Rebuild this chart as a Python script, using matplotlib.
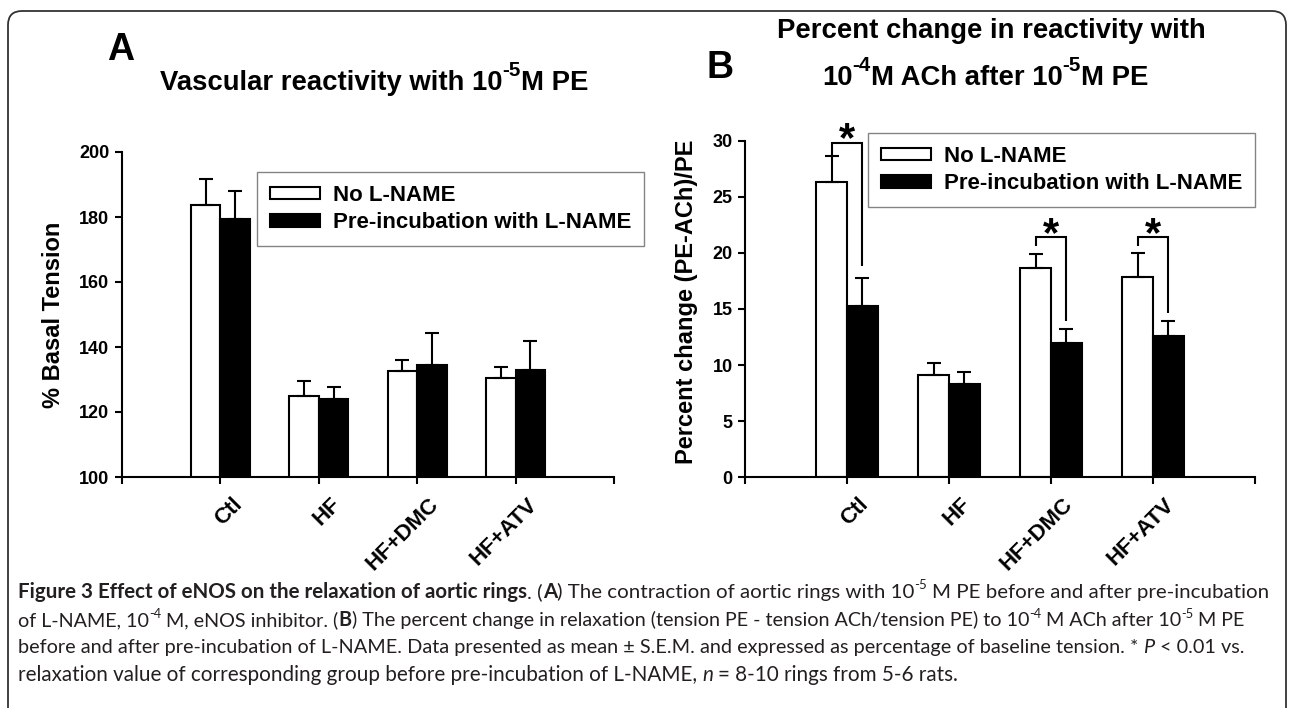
import numpy as np
import matplotlib
matplotlib.use("Agg")
import matplotlib.pyplot as plt
from matplotlib.patches import FancyBboxPatch
from matplotlib.transforms import IdentityTransform, ScaledTranslation

plt.rcParams['font.family'] = ['Liberation Sans', 'DejaVu Sans']
plt.rcParams['font.weight'] = 'bold'

# ---------------- data ----------------
categories = ['Ctl', 'HF', 'HF+DMC', 'HF+ATV']
series_names = ['No L-NAME', 'Pre-incubation with L-NAME']

a_no_lname = [183.7, 124.9, 132.5, 130.6]
a_no_lname_err = [7.9, 4.7, 3.5, 3.3]
a_lname = [179.4, 124.1, 134.4, 132.8]
a_lname_err = [8.5, 3.7, 10.0, 9.2]

b_no_lname = [26.3, 9.1, 18.7, 17.9]
b_no_lname_err = [2.4, 1.1, 1.2, 2.1]
b_lname = [15.3, 8.3, 12.0, 12.6]
b_lname_err = [2.5, 1.1, 1.2, 1.35]

# significance brackets in panel B (group index, bracket height, left/right leg ends)
sig_groups = [0, 2, 3]
sig_bracket_y = [29.8, 21.4, 21.4]
sig_left_bottom = [28.7, 20.6, 20.6]
sig_right_bottom = [18.8, 13.9, 14.6]

a_yticks = [100, 120, 140, 160, 180, 200]
b_yticks = [0, 5, 10, 15, 20, 25, 30]

W, H = 1290, 708
fig = plt.figure(figsize=(W / 100, H / 100), dpi=100)
fig.patch.set_facecolor('white')
renderer = fig.canvas.get_renderer()

# outer rounded frame
frame = FancyBboxPatch((8, -30), 1278, H - 11 + 30,
                       boxstyle="round,pad=0,rounding_size=14",
                       transform=IdentityTransform(), facecolor='none',
                       edgecolor='#333333', linewidth=1.3)
fig.add_artist(frame)

x = np.arange(1, len(categories) + 1)
bw = 0.3
LW = 1.5


def style_axes(ax, yticks):
    ax.set_xlim(0, 5)
    ax.set_ylim(yticks[0], yticks[-1])
    ax.set_yticks(yticks)
    ax.set_xticks(np.arange(0, 6))
    ax.set_xticklabels([''] + categories + [''])
    for s in ['top', 'right']:
        ax.spines[s].set_visible(False)
    for s in ['left', 'bottom']:
        ax.spines[s].set_linewidth(LW)
    ax.tick_params(axis='y', direction='out', length=5, width=LW, labelsize=13, pad=4)
    ax.tick_params(axis='x', direction='out', length=5, width=LW, labelsize=16, pad=7)
    offset = ScaledTranslation(8 / 72, 0, fig.dpi_scale_trans)
    for lab in ax.get_xticklabels():
        lab.set_rotation(45)
        lab.set_ha('right')
        lab.set_va('top')
        lab.set_rotation_mode('anchor')
        lab.set_fontweight('bold')
        lab.set_transform(lab.get_transform() + offset)
    for lab in ax.get_yticklabels():
        lab.set_fontweight('bold')
    ax.patch.set_alpha(0)


def draw_bars(ax, v1, e1, v2, e2):
    b1 = ax.bar(x - bw / 2, v1, bw, color='white', edgecolor='black',
                linewidth=LW, zorder=2, label=series_names[0])
    b2 = ax.bar(x + bw / 2, v2, bw, color='black', edgecolor='black',
                linewidth=LW, zorder=2, label=series_names[1])
    ax.errorbar(x - bw / 2, v1, yerr=[np.zeros(len(v1)), e1], fmt='none',
                ecolor='black', elinewidth=LW, capsize=4.7, capthick=LW, zorder=3)
    ax.errorbar(x + bw / 2, v2, yerr=[np.zeros(len(v2)), e2], fmt='none',
                ecolor='black', elinewidth=LW, capsize=4.7, capthick=LW, zorder=3)
    return b1, b2


def add_legend(ax, left_px, top_px):
    leg = ax.legend(loc='upper left', bbox_to_anchor=(left_px / W, 1 - top_px / H),
                    bbox_transform=fig.transFigure, borderaxespad=0,
                    prop={'weight': 'bold', 'size': 16}, frameon=True,
                    fancybox=False, edgecolor='#666666', handlelength=2.25,
                    handleheight=0.5, handletextpad=0.6, labelspacing=0.29,
                    borderpad=0.58)
    leg.get_frame().set_linewidth(1.0)
    return leg


# ---------------- panel A ----------------
axA = fig.add_axes([122 / W, 1 - 477 / H, (614 - 122) / W, (477 - 152) / H])
draw_bars(axA, a_no_lname, a_no_lname_err, a_lname, a_lname_err)
style_axes(axA, a_yticks)
axA.set_ylabel('% Basal Tension', fontsize=17, fontweight='bold', va='center')
axA.yaxis.set_label_coords((54 - 122) / (614 - 122), 0.5)
add_legend(axA, 257, 172)

# ---------------- panel B ----------------
axB = fig.add_axes([745 / W, 1 - 477 / H, (1255 - 745) / W, (477 - 141) / H])
draw_bars(axB, b_no_lname, b_no_lname_err, b_lname, b_lname_err)
style_axes(axB, b_yticks)
axB.set_ylabel('Percent change (PE-ACh)/PE', fontsize=17, fontweight='bold', va='center')
axB.yaxis.set_label_coords((686 - 745) / (1255 - 745), 0.52)
add_legend(axB, 868, 133)

for g, yb, yl, yr in zip(sig_groups, sig_bracket_y, sig_left_bottom, sig_right_bottom):
    xl = x[g] - bw / 2
    xr = x[g] + bw / 2
    axB.plot([xl, xl, xr, xr], [yl, yb, yb, yr], color='black', lw=LW,
             solid_capstyle='butt', solid_joinstyle='miter', zorder=4, clip_on=False)
    axB.annotate('*', xy=((xl + xr) / 2, yb), xytext=(0, -6), textcoords='offset points',
                 ha='center', va='baseline', fontsize=30, fontweight='bold',
                 annotation_clip=False, zorder=5)


# ---------------- rich text helper ----------------
def make_items(segs, size, family, color):
    items = []
    for txt, st in segs:
        sup = st.get('sup', False)
        fs = size * st.get('supscale', 0.62) if sup else size
        props = dict(fontsize=fs, family=family, fontweight=st.get('weight', 'normal'),
                     fontstyle=st.get('style', 'normal'), color=color)
        lead = len(txt) - len(txt.lstrip(' '))
        trail = len(txt) - len(txt.rstrip(' '))
        core = txt.strip(' ')
        tmp1 = fig.text(0, 0, 'x x', transform=IdentityTransform(), **props)
        tmp2 = fig.text(0, 0, 'xx', transform=IdentityTransform(), **props)
        sp = tmp1.get_window_extent(renderer).width - tmp2.get_window_extent(renderer).width
        tmp1.remove(); tmp2.remove()
        rise = st.get('rise', 0.4) * size * 100 / 72
        items.append((core, props, lead * sp, trail * sp, sup, rise))
    return items


def measure(segs, size, family, color='black'):
    total = 0
    for core, props, lsp, tsp, sup, rise in make_items(segs, size, family, color):
        t = fig.text(0, 0, core, transform=IdentityTransform(), **props)
        w = t.get_window_extent(renderer).width if core else 0
        t.remove()
        total += lsp + w + tsp
    return total


def draw_rich(x_px, y_base_px, segs, size, family, ha='left', color='black'):
    items = make_items(segs, size, family, color)
    texts = []
    total = 0
    for core, props, lsp, tsp, sup, rise in items:
        t = fig.text(0, 0, core, transform=IdentityTransform(), va='baseline', ha='left', **props)
        w = t.get_window_extent(renderer).width if core else 0
        texts.append((t, w, lsp, tsp, sup, rise))
        total += lsp + w + tsp
    cx = x_px - total / 2 if ha == 'center' else x_px
    yb = H - y_base_px
    for t, w, lsp, tsp, sup, rise in texts:
        cx += lsp
        t.set_position((cx, yb + (rise if sup else 0)))
        cx += w + tsp
    return total


B = {'weight': 'bold'}
N = {}
I = {'style': 'italic'}
TS = {'weight': 'bold', 'sup': True, 'supscale': 0.75, 'rise': 0.5}
CS = {'sup': True, 'supscale': 0.65, 'rise': 0.42}

TF = ['Liberation Sans', 'DejaVu Sans']
title_b1 = [('Percent change in reactivity with', B)]
tsize = 20 * 427 / measure(title_b1, 20, TF)

# panel letters
fig.text(121 / W, 1 - 60 / H, 'A', fontsize=27, fontweight='bold', ha='center', va='baseline')
fig.text(720 / W, 1 - 78 / H, 'B', fontsize=27, fontweight='bold', ha='center', va='baseline')

# titles
draw_rich(160, 90, [('Vascular reactivity with 10', B), ('-5', TS), ('M PE', B)], tsize, TF)
draw_rich(991, 38, title_b1, tsize, TF, ha='center')
draw_rich(985, 85, [('10', B), ('-4', TS), ('M ACh after 10', B), ('-5', TS), ('M PE', B)],
          tsize, TF, ha='center')

# caption
CF = ['Lato', 'Open Sans', 'DejaVu Sans']
cap1 = [('Figure 3 Effect of eNOS on the relaxation of aortic rings', B), ('. (', N), ('A', B),
        (') The contraction of aortic rings with 10', N), ('-5', CS),
        (' M PE before and after pre-incubation', N)]
cap2 = [('of L-NAME, 10', N), ('-4', CS), (' M, eNOS inhibitor. (', N), ('B', B),
        (') The percent change in relaxation (tension PE - tension ACh/tension PE) to 10', N),
        ('-4', CS), (' M ACh after 10', N), ('-5', CS), (' M PE', N)]
cap3 = [('before and after pre-incubation of L-NAME. Data presented as mean \u00b1 S.E.M. and '
         'expressed as percentage of baseline tension. * ', N), ('P', I), (' < 0.01 vs.', N)]
cap4 = [('relaxation value of corresponding group before pre-incubation of L-NAME, ', N),
        ('n', I), (' = 8-10 rings from 5-6 rats.', N)]
cap_lines = [cap1, cap2, cap3, cap4]
cap_ends = [1262, 1246, 1244, 954]
cap_base = [598, 626, 653, 681]
cap_x0 = 18
ccol = '#231f20'
base_size = 12 * (cap_ends[0] - cap_x0) / measure(cap1, 12, CF)
for segs, xe, yb in zip(cap_lines, cap_ends, cap_base):
    s = 12 * (xe - cap_x0) / measure(segs, 12, CF)
    s = min(s, base_size * 1.03)
    draw_rich(cap_x0, yb, segs, s, CF, color=ccol)

fig.savefig('out.png', dpi=100, facecolor='white')
